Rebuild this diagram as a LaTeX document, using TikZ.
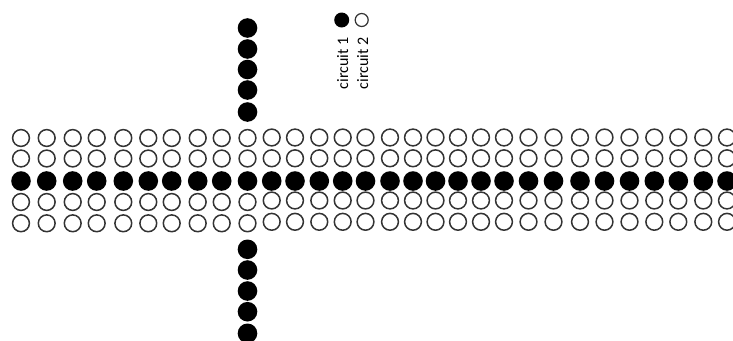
\documentclass[tikz,border=0pt]{standalone}
\usepackage{fontspec}
\setmainfont{Carlito}
\begin{document}
\begin{tikzpicture}[x=1pt,y=-1pt,
  dotfull/.style={circle,fill=black,inner sep=0pt,minimum size=19.6pt},
  dotempty/.style={circle,draw=black!80,line width=1.5pt,fill=white,inner sep=0pt,minimum size=16.8pt},
  legfull/.style={circle,fill=black,inner sep=0pt,minimum size=15pt},
  legempty/.style={circle,draw=black!80,line width=1.2pt,inner sep=0pt,minimum size=13pt},
  lbl/.style={rotate=90,font=\fontsize{16}{18}\selectfont,inner sep=0pt}]
\useasboundingbox (0,0) rectangle (733,340);
\clip (0,0) rectangle (733,340);
% grid
\foreach \x [count=\i] in {21,46.7,72.7,96.7,123.3,148.3,171.7,197.7,221.7,247.5,271.7,295,319.3,342.7,365.5,390,413,435.5,458,481,504,528.5,553.5,580,604.5,629.5,654.3,678.3,703.3,727}{
  \ifnum\i<11
    \node[dotempty] (a\i) at (\x,138) {};
    \node[dotempty] (b\i) at (\x,158.5) {};
    \node[dotfull]  (c\i) at (\x,181) {};
    \node[dotempty] (d\i) at (\x,202) {};
    \node[dotempty] (e\i) at (\x,223.3) {};
  \else
    \node[dotempty] (a\i) at (\x,137.5) {};
    \node[dotempty] (b\i) at (\x,158.3) {};
    \node[dotfull]  (c\i) at (\x,181) {};
    \node[dotempty] (d\i) at (\x,200.5) {};
    \node[dotempty] (e\i) at (\x,221.8) {};
  \fi
}
% vertical column
\foreach \y [count=\j] in {28,49,69.5,90,112}{
  \node[dotfull] (t\j) at (247.5,\y) {};
}
\foreach \y [count=\j] in {249.3,270,291,311.7,333.3}{
  \node[dotfull] (u\j) at (247.5,\y) {};
}
% legend
\node[legfull]  (l1) at (341.7,20) {};
\node[legempty] (l2) at (361.7,20) {};
\node[lbl] (lt1) at (342.7,63.5) {circuit 1};
\node[lbl] (lt2) at (362.7,63.5) {circuit 2};
\end{tikzpicture}
\end{document}
